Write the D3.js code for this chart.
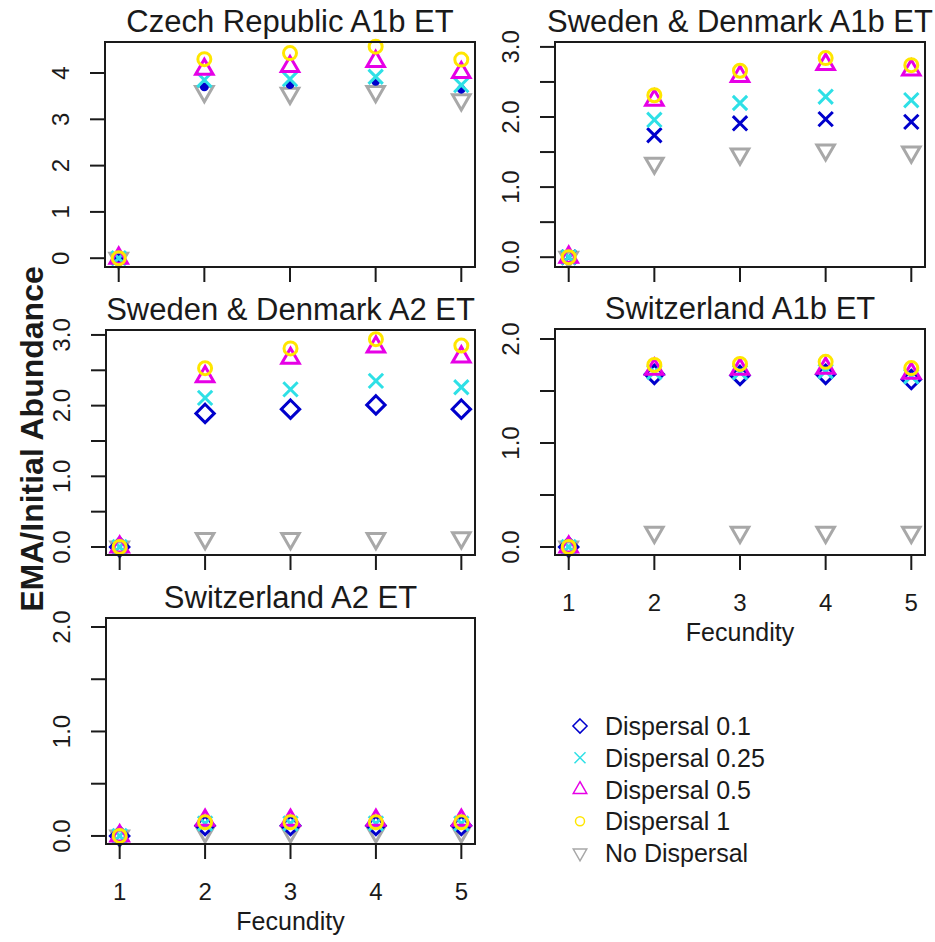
<!DOCTYPE html>
<html>
<head>
<meta charset="utf-8">
<script src="https://cdn.jsdelivr.net/npm/d3@7"></script>
<style>
body{margin:0;background:#fff;}
text{font-family:"Liberation Sans",Arial,sans-serif;fill:#1a1a1a;}
</style>
</head>
<body>
<script>
// data
var fecundity = [1, 2, 3, 4, 5];
var seriesNames = ["Dispersal 0.1", "Dispersal 0.25", "Dispersal 0.5", "Dispersal 1", "No Dispersal"];
var seriesColors = ["#0000cc", "#2ee0e6", "#e600e6", "#ffe600", "#a8a8a8"];
var seriesShapes = ["diamond", "x", "triUp", "circle", "triDown"];

// rows: d0.1, d0.25, d0.5, d1, none
var czechA1b = [
  [0, 3.70, 3.75, 3.82, 3.65],
  [0, 3.85, 3.87, 3.92, 3.74],
  [0, 4.08, 4.14, 4.25, 4.01],
  [0, 4.30, 4.43, 4.57, 4.29],
  [0, 3.60, 3.56, 3.60, 3.42]
];
var swedenA1b = [
  [0, 1.74, 1.91, 1.97, 1.93],
  [0, 1.96, 2.20, 2.29, 2.24],
  [0, 2.24, 2.58, 2.75, 2.67],
  [0, 2.31, 2.66, 2.84, 2.74],
  [0, 1.34, 1.47, 1.53, 1.50]
];
var swedenA2 = [
  [0, 1.89, 1.95, 2.01, 1.95],
  [0, 2.11, 2.23, 2.35, 2.26],
  [0, 2.41, 2.67, 2.83, 2.69],
  [0, 2.53, 2.81, 2.94, 2.85],
  [0, 0.12, 0.12, 0.12, 0.13]
];
var swissA1b = [
  [0, 1.66, 1.65, 1.66, 1.61],
  [0, 1.68, 1.68, 1.69, 1.64],
  [0, 1.71, 1.71, 1.72, 1.67],
  [0, 1.75, 1.76, 1.78, 1.72],
  [0, 0.14, 0.14, 0.14, 0.14]
];
var swissA2 = [
  [0, 0.10, 0.10, 0.10, 0.10],
  [0, 0.12, 0.12, 0.12, 0.12],
  [0, 0.15, 0.15, 0.15, 0.15],
  [0, 0.13, 0.13, 0.13, 0.13],
  [0, 0.04, 0.04, 0.04, 0.04]
];

var panelTitles = ["Czech Republic A1b ET", "Sweden & Denmark A1b ET", "Sweden & Denmark A2 ET",
                   "Switzerland A1b ET", "Switzerland A2 ET"];
var ticksA = [0, 1, 2, 3, 4], labelsA = ["0", "1", "2", "3", "4"];
var ticksB = [0, 0.5, 1, 1.5, 2, 2.5, 3], labelsB = ["0.0", "", "1.0", "", "2.0", "", "3.0"];
var ticksC = [0, 0.5, 1, 1.5, 2], labelsC = ["0.0", "", "1.0", "", "2.0"];

var width = 935, height = 942;
var svg = d3.select("body").append("svg").attr("width", width).attr("height", height);

var panels = [
  {data: czechA1b,  title: panelTitles[0], x0: 105, x1: 475, y0: 42,  y1: 267, dom: [-0.19, 4.67], ticks: ticksA, labels: labelsA, blue: "dot", xlab: false},
  {data: swedenA1b, title: panelTitles[1], x0: 555, x1: 925, y0: 42,  y1: 267, dom: [-0.14, 3.07], ticks: ticksB, labels: labelsB, blue: "x", xlab: false},
  {data: swedenA2,  title: panelTitles[2], x0: 106, x1: 475, y0: 330, y1: 555, dom: [-0.113, 3.07], ticks: ticksB, labels: labelsB, blue: "diamond", xlab: false},
  {data: swissA1b,  title: panelTitles[3], x0: 555, x1: 925, y0: 329, y1: 555, dom: [-0.077, 2.096], ticks: ticksC, labels: labelsC, blue: "diamond", xlab: true},
  {data: swissA2,   title: panelTitles[4], x0: 106, x1: 475, y0: 618, y1: 844, dom: [-0.077, 2.086], ticks: ticksC, labels: labelsC, blue: "diamond", xlab: true}
];

function markerPath(shape, r){
  var p = d3.path();
  if(shape === "diamond"){
    var d = Math.SQRT2 * r;
    p.moveTo(0, -d); p.lineTo(d, 0); p.lineTo(0, d); p.lineTo(-d, 0); p.closePath();
  }else if(shape === "x"){
    var a = r * 1.1;
    p.moveTo(-a, -a); p.lineTo(a, a); p.moveTo(a, -a); p.lineTo(-a, a);
  }else if(shape === "triUp"){
    p.moveTo(0, -1.555 * r); p.lineTo(1.347 * r, 0.778 * r); p.lineTo(-1.347 * r, 0.778 * r); p.closePath();
  }else if(shape === "triDown"){
    p.moveTo(0, 1.555 * r); p.lineTo(1.347 * r, -0.778 * r); p.lineTo(-1.347 * r, -0.778 * r); p.closePath();
  }else if(shape === "circle"){
    p.arc(0, 0, r, 0, 2 * Math.PI);
  }else if(shape === "dot"){
    p.arc(0, 0, r * 0.45, 0, 2 * Math.PI);
  }
  return p.toString();
}

panels.forEach(function(pn){
  var x = d3.scaleLinear().domain([0.84, 5.16]).range([pn.x0, pn.x1]);
  var y = d3.scaleLinear().domain(pn.dom).range([pn.y1, pn.y0]);
  var g = svg.append("g");

  // points: grey first, then 0.1 .. 1
  var order = [4, 0, 1, 2, 3];
  order.forEach(function(si){
    var shape = si === 0 ? pn.blue : seriesShapes[si];
    g.selectAll(".pt" + si).data(pn.data[si]).enter().append("path")
      .attr("class", "pt" + si)
      .attr("d", markerPath(shape, 6.5))
      .attr("transform", function(d, i){ return "translate(" + x(fecundity[i]) + "," + y(d) + ")"; })
      .attr("fill", shape === "dot" ? seriesColors[si] : "none")
      .attr("stroke", seriesColors[si])
      .attr("stroke-width", 3);
  });

  // box
  g.append("rect").attr("x", pn.x0).attr("y", pn.y0)
    .attr("width", pn.x1 - pn.x0).attr("height", pn.y1 - pn.y0)
    .attr("fill", "none").attr("stroke", "#1a1a1a").attr("stroke-width", 2);

  // y ticks
  g.selectAll(".ytick").data(pn.ticks).enter().append("line")
    .attr("x1", pn.x0 - 15).attr("x2", pn.x0)
    .attr("y1", function(d){ return y(d); }).attr("y2", function(d){ return y(d); })
    .attr("stroke", "#1a1a1a").attr("stroke-width", 2);
  g.selectAll(".ylab").data(pn.ticks).enter().append("text")
    .attr("x", pn.x0 - 36).attr("y", function(d){ return y(d); })
    .attr("transform", function(d){ return "rotate(-90," + (pn.x0 - 36) + "," + y(d) + ")"; })
    .attr("text-anchor", "middle").attr("font-size", "24px")
    .text(function(d, i){ return pn.labels[i]; });

  // x ticks
  g.selectAll(".xtick").data(fecundity).enter().append("line")
    .attr("x1", function(d){ return x(d); }).attr("x2", function(d){ return x(d); })
    .attr("y1", pn.y1).attr("y2", pn.y1 + 15)
    .attr("stroke", "#1a1a1a").attr("stroke-width", 2);
  if(pn.xlab){
    g.selectAll(".xlab").data(fecundity).enter().append("text")
      .attr("x", function(d){ return x(d); }).attr("y", pn.y1 + 56)
      .attr("text-anchor", "middle").attr("font-size", "24px")
      .text(function(d){ return d; });
    g.append("text").attr("x", (pn.x0 + pn.x1) / 2).attr("y", pn.y1 + 86)
      .attr("text-anchor", "middle").attr("font-size", "25px").text("Fecundity");
  }

  // title
  g.append("text").attr("x", (pn.x0 + pn.x1) / 2).attr("y", pn.y0 - 10)
    .attr("text-anchor", "middle").attr("font-size", "31px").text(pn.title);
});

// shared y label
svg.append("text").attr("x", 43).attr("y", 439)
  .attr("transform", "rotate(-90,43,439)")
  .attr("text-anchor", "middle").attr("font-size", "32px").attr("font-weight", "bold")
  .text("EMA/Initial Abundance");

// legend
var legend = svg.append("g");
var legY = d3.scaleLinear().domain([0, 4]).range([735, 862]);
seriesNames.forEach(function(name, i){
  var cy = legY(i) - 9;
  legend.append("path")
    .attr("d", markerPath(seriesShapes[i], i === 3 ? 4.5 : 5))
    .attr("transform", "translate(580," + cy + ")")
    .attr("fill", "none").attr("stroke", seriesColors[i]).attr("stroke-width", 1.5);
  legend.append("text").attr("x", 605).attr("y", legY(i))
    .attr("font-size", "25px").text(name);
});
</script>
</body>
</html>
